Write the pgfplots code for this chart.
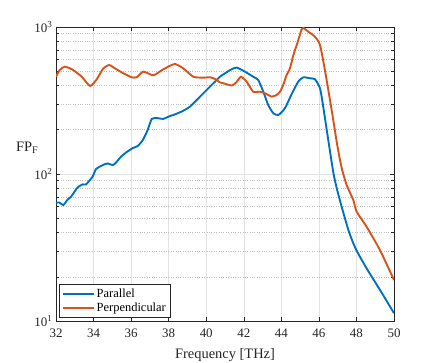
\documentclass[border=0pt]{standalone}
\usepackage{fontspec}
\setmainfont{Liberation Serif}
\usepackage{pgfplots}
\pgfplotsset{compat=1.18}
\definecolor{mblue}{rgb}{0,0.447,0.741}
\definecolor{morange}{rgb}{0.850,0.325,0.098}
\definecolor{axgray}{gray}{0.15}

\begin{document}
\begin{tikzpicture}[x=1bp,y=1bp]
\useasboundingbox (0,0) rectangle (436,362);
\begin{axis}[
    at={(56bp,41bp)}, anchor=south west,
    scale only axis, width=338bp, height=294bp,
    xmin=32, xmax=50, ymin=10, ymax=1000,
    ymode=log,
    xtick={32,34,...,50},
    ytick={10,100,1000},
    yticklabels={10\textsuperscript{1},10\textsuperscript{2},10\textsuperscript{3}},
    /pgf/number format/assume math mode=true,
    tick label style={font=\fontsize{13}{13}\selectfont, text=axgray},
    xticklabel style={yshift=-4bp},
    axis line style={axgray, line width=0.6pt},
    tick style={axgray, line width=0.5pt},
    xmajorgrids, ymajorgrids, yminorgrids,
    major grid style={gray!22, solid, line width=0.5pt},
    minor grid style={gray!50, dotted, line width=0.5pt},
    xlabel={Frequency [THz]},
    xlabel style={font=\fontsize{14.5}{15}\selectfont, text=axgray, yshift=-4bp},
    ylabel={FP\textsubscript{F}},
    ylabel style={rotate=-90, at={(rel axis cs:-0.085,0.59)}, anchor=center,
        font=\fontsize{14.5}{15}\selectfont, text=axgray},
    legend style={at={(0.009,0.01)}, anchor=south west,
        font=\fontsize{12.5}{13}\selectfont, draw=axgray, line width=0.6pt,
        inner sep=2.5pt, row sep=0pt},
    legend cell align=left,
    legend image code/.code={\draw[#1] (0bp,0bp) -- (31bp,0bp);},
    every axis plot/.append style={line width=1.9pt, smooth, tension=0.35},
]
\addplot[mblue] coordinates {
(32.00,63.8) (32.18,64) (32.39,61.5) (32.62,67) (32.80,70) (33.15,81)
(33.42,85) (33.60,85) (33.95,96) (34.13,108) (34.49,115) (34.75,118)
(35.02,115) (35.19,119.5) (35.46,131) (35.73,140) (36.08,150) (36.35,155)
(36.62,170) (36.88,199) (37.10,237) (37.40,240) (37.70,237) (38.07,248)
(38.25,252) (38.69,266) (39.13,287) (39.67,336) (40.20,393) (40.47,425)
(40.73,459) (41.00,484) (41.30,512) (41.62,530) (42.06,497) (42.50,459)
(42.77,436) (43.04,363) (43.30,295) (43.57,259) (43.84,252) (44.19,280)
(44.55,350) (44.90,425) (45.17,455) (45.52,448) (45.79,441) (46.06,383)
(46.23,287) (46.50,170) (46.77,102) (46.95,80) (47.21,60) (47.57,41.6)
(47.83,33.8) (48.04,29.6) (48.54,22.8) (49.25,16.3) (50.00,11.3)
};
\addplot[morange] coordinates {
(32.00,459) (32.20,510) (32.45,537) (32.75,523) (32.92,509) (33.37,459)
(33.81,397) (34.17,441) (34.52,523) (34.84,551) (35.14,523) (35.59,484)
(36.03,455) (36.30,455) (36.65,497) (37.18,469) (37.60,505) (37.95,535)
(38.34,560) (38.78,523) (39.31,459) (39.84,452) (40.20,455) (40.47,443)
(40.73,420) (40.91,414) (41.36,400) (41.60,420) (41.85,459) (42.15,425)
(42.50,363) (42.86,363) (43.13,354) (43.49,336) (43.75,345) (43.93,363)
(44.10,403) (44.28,471) (44.46,523) (44.64,645) (44.82,754) (45.08,964)
(45.17,985) (45.44,929) (45.79,859) (46.06,754) (46.32,509) (46.68,272)
(46.95,165) (47.12,125) (47.27,103) (47.48,84) (47.83,66.6) (48.01,55.4)
(48.54,43.8) (49.25,30.4) (50.00,19.0)
};
\legend{Parallel, Perpendicular}
\end{axis}
\end{tikzpicture}
\end{document}
